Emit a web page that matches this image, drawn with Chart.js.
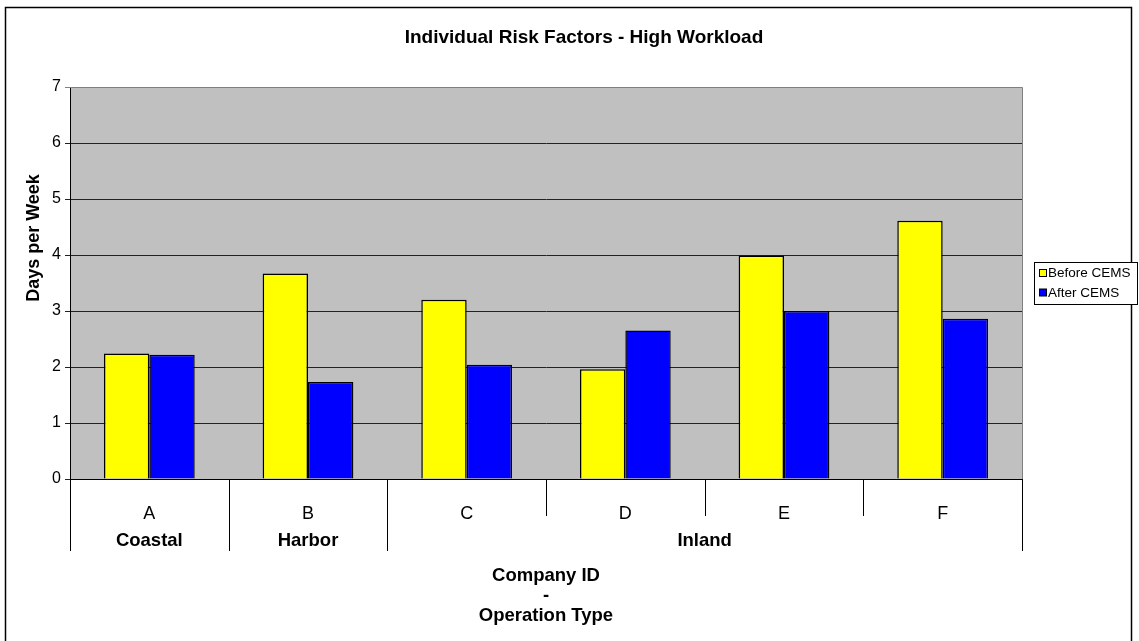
<!DOCTYPE html>
<html>
<head>
<meta charset="utf-8">
<title>Individual Risk Factors - High Workload</title>
<script src="https://cdn.jsdelivr.net/npm/chart.js@4.4.1/dist/chart.umd.min.js"></script>
<style>
  html, body { margin: 0; padding: 0; background: #ffffff; }
  #wrap { position: relative; width: 1139px; height: 641px; }
  canvas { display: block; }
</style>
</head>
<body>
<div id="wrap"><canvas id="chart" width="1139" height="641"></canvas></div>
<script>
// Company IDs along the x axis
const companies = ['A', 'B', 'C', 'D', 'E', 'F'];
// Operation type groups: label and how many companies each one spans
const groupNames = ['Coastal', 'Harbor', 'Inland'];
const groupSpans = [1, 1, 4];
// Days per week with high workload, before and after CEMS
const beforeCEMS = [2.24, 3.67, 3.20, 1.96, 3.99, 4.61];
const afterCEMS = [2.22, 1.73, 2.04, 2.65, 3.00, 2.86];
const seriesNames = ['Before CEMS', 'After CEMS'];
const seriesColors = ['#FFFF00', '#0000FF'];
// y axis range and step
const yMin = 0, yMax = 7, yStep = 1;

const chartTitle = 'Individual Risk Factors - High Workload';
const yTitle = 'Days per Week';
const xTitle = ['Company ID', '-', 'Operation Type'];

const FONT = "'Liberation Sans', Arial, Helvetica, sans-serif";

// Grey plot background, frame, title, y title, legend and the grouped category axis
const framePlugin = {
  id: 'frame',
  beforeDraw(chart) {
    const { ctx, chartArea: a } = chart;
    ctx.save();
    ctx.fillStyle = '#ffffff';
    ctx.fillRect(0, 0, chart.width, chart.height);
    ctx.fillStyle = '#C0C0C0';
    ctx.fillRect(a.left, a.top, a.right - a.left, a.bottom - a.top);
    ctx.restore();
  },
  afterDatasetsDraw(chart) {
    const { ctx, chartArea: a } = chart;
    ctx.save();
    // plot frame top and right
    ctx.strokeStyle = '#808080';
    ctx.lineWidth = 1;
    ctx.beginPath();
    ctx.moveTo(a.left, a.top + 0.5);
    ctx.lineTo(a.right + 0.5, a.top + 0.5);
    ctx.lineTo(a.right + 0.5, a.bottom);
    ctx.stroke();
    ctx.restore();
  },
  afterDraw(chart) {
    const { ctx, chartArea: a } = chart;
    const xs = chart.scales.x;
    ctx.save();

    // outer border
    ctx.strokeStyle = '#000000';
    ctx.lineWidth = 1.5;
    ctx.strokeRect(5.5, 7.5, 1126, 640);

    // chart title
    ctx.fillStyle = '#000000';
    ctx.font = 'bold 19px ' + FONT;
    ctx.textAlign = 'center';
    ctx.textBaseline = 'middle';
    ctx.fillText(chartTitle, 584, 38);

    // y axis title
    ctx.font = 'bold 18px ' + FONT;
    ctx.save();
    ctx.translate(34, 238);
    ctx.rotate(-Math.PI / 2);
    ctx.fillText(yTitle, 0, 0);
    ctx.restore();

    // category boundaries
    const n = companies.length;
    const centers = companies.map((_, i) => xs.getPixelForTick(i));
    const bounds = [xs.left];
    for (let i = 0; i < n - 1; i++) bounds.push((centers[i] + centers[i + 1]) / 2);
    bounds.push(xs.right);
    const groupEdges = [0];
    groupSpans.forEach(s => groupEdges.push(groupEdges[groupEdges.length - 1] + s));

    ctx.strokeStyle = '#000000';
    ctx.lineWidth = 1;
    bounds.forEach((bx, i) => {
      const long = groupEdges.includes(i);
      const px = Math.round(bx) + 0.5;
      ctx.beginPath();
      ctx.moveTo(px, a.bottom);
      ctx.lineTo(px, a.bottom + (long ? 72 : 37));
      ctx.stroke();
    });

    // operation type labels
    ctx.font = 'bold 18.5px ' + FONT;
    groupNames.forEach((g, k) => {
      const cx = (bounds[groupEdges[k]] + bounds[groupEdges[k + 1]]) / 2;
      ctx.fillText(g, cx, a.bottom + 62);
    });

    // legend
    const lx = 1034, ly = 262, lw = 103, lh = 42;
    ctx.fillStyle = '#ffffff';
    ctx.fillRect(lx, ly, lw, lh);
    ctx.strokeStyle = '#000000';
    ctx.lineWidth = 1;
    ctx.strokeRect(lx + 0.5, ly + 0.5, lw, lh);
    ctx.font = '13.5px ' + FONT;
    ctx.textAlign = 'left';
    seriesNames.forEach((name, i) => {
      const cy = ly + 11 + i * 19.5;
      ctx.fillStyle = seriesColors[i];
      ctx.fillRect(lx + 5, cy - 3.5, 7, 7);
      ctx.strokeStyle = '#000000';
      ctx.strokeRect(lx + 5.5, cy - 3.5, 7, 7);
      ctx.fillStyle = '#000000';
      ctx.fillText(name, lx + 14, cy + 0.5);
    });
    ctx.restore();
  }
};

new Chart(document.getElementById('chart'), {
  type: 'bar',
  data: {
    labels: companies,
    datasets: [
      {
        label: seriesNames[0],
        data: beforeCEMS,
        backgroundColor: seriesColors[0],
        borderColor: '#000000',
        borderWidth: 1.5,
        borderSkipped: 'start'
      },
      {
        label: seriesNames[1],
        data: afterCEMS,
        backgroundColor: seriesColors[1],
        borderColor: '#000000',
        borderWidth: 1.5,
        borderSkipped: 'start'
      }
    ]
  },
  options: {
    responsive: false,
    animation: false,
    devicePixelRatio: 1,
    layout: { padding: { top: 87, right: 117, bottom: 0, left: 0 } },
    datasets: {
      bar: { categoryPercentage: 0.572, barPercentage: 1.0 }
    },
    plugins: {
      legend: { display: false },
      title: { display: false },
      tooltip: { enabled: false }
    },
    scales: {
      x: {
        offset: true,
        grid: { display: false },
        border: { display: true, color: '#000000', width: 1 },
        ticks: {
          color: '#000000',
          font: { family: FONT, size: 18 },
          padding: 16
        },
        title: {
          display: true,
          text: xTitle,
          color: '#000000',
          font: { family: FONT, size: 18.5, weight: 'bold', lineHeight: '20px' },
          padding: { top: 0, bottom: 15 }
        },
        afterFit(scale) { scale.height = 162; }
      },
      y: {
        min: yMin,
        max: yMax,
        grid: {
          color: (c) => (c.tick && c.tick.value === yMax ? '#808080' : '#222222'),
          lineWidth: 1,
          tickLength: 5,
          drawTicks: true
        },
        border: { display: true, color: '#000000', width: 1 },
        ticks: {
          stepSize: yStep,
          color: '#000000',
          font: { family: FONT, size: 16 },
          padding: 4
        },
        afterFit(scale) { scale.width = 70; }
      }
    }
  },
  plugins: [framePlugin]
});
</script>
</body>
</html>
